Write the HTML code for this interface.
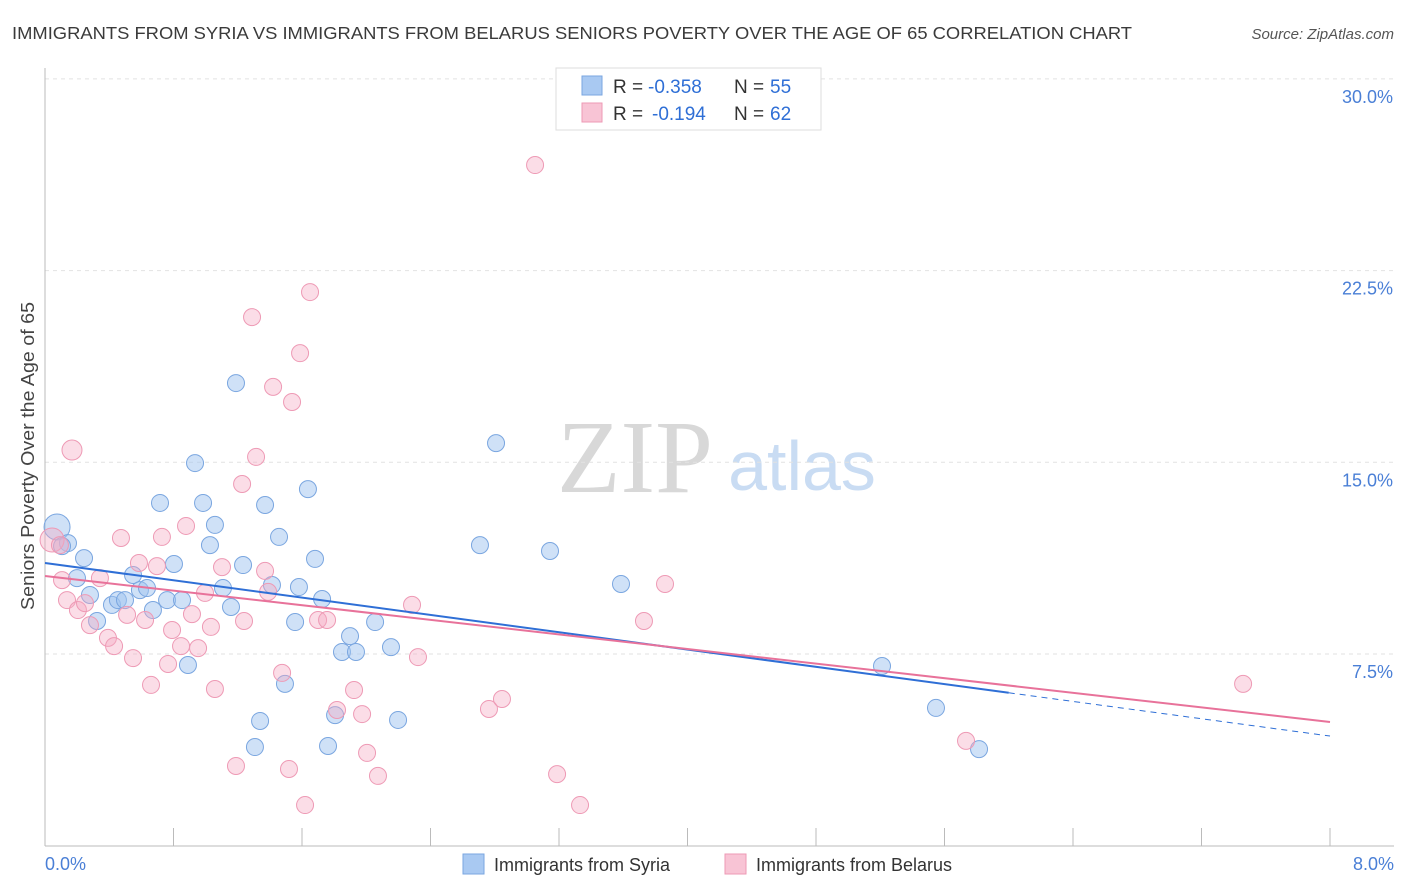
<!DOCTYPE html>
<html><head><meta charset="utf-8"><style>
body{margin:0;background:#fff;font-family:"Liberation Sans",sans-serif;}
svg{display:block}
</style></head><body>
<svg id="chart" width="1406" height="892">
<text x="12" y="39" font-size="17.5" fill="#3a3a3a" textLength="1120" lengthAdjust="spacingAndGlyphs">IMMIGRANTS FROM SYRIA VS IMMIGRANTS FROM BELARUS SENIORS POVERTY OVER THE AGE OF 65 CORRELATION CHART</text>
<text x="1394" y="39" font-size="15" font-style="italic" fill="#555" text-anchor="end">Source: ZipAtlas.com</text>
<text x="635" y="492" font-size="104" font-family="Liberation Serif" fill="#d8d8d8" text-anchor="middle">ZIP</text>
<text x="802" y="490" font-size="70" fill="#c9dcf3" text-anchor="middle">atlas</text>
<g id="grid"></g><g id="axes"></g><g id="pts"></g><g id="lines"></g>
<text transform="translate(34,456) rotate(-90)" font-size="18" fill="#444" text-anchor="middle" textLength="308" lengthAdjust="spacingAndGlyphs">Seniors Poverty Over the Age of 65</text>
<g>
<rect x="556" y="68" width="265" height="62" fill="#fff" stroke="#ddd"/>
<rect x="582" y="76" width="20" height="19" fill="#a9c9f2" stroke="#7aa6e0"/>
<rect x="582" y="103" width="20" height="19" fill="#f8c4d5" stroke="#ee9ab5"/>
<text x="613" y="93" font-size="19" fill="#333">R =</text>
<text x="648" y="93" font-size="19" fill="#2f6fd6">-0.358</text>
<text x="734" y="93" font-size="19" fill="#333">N =</text>
<text x="770" y="93" font-size="19" fill="#2f6fd6">55</text>
<text x="613" y="120" font-size="19" fill="#333">R =</text>
<text x="652" y="120" font-size="19" fill="#2f6fd6">-0.194</text>
<text x="734" y="120" font-size="19" fill="#333">N =</text>
<text x="770" y="120" font-size="19" fill="#2f6fd6">62</text>
</g>
<g>
<rect x="463" y="854" width="21" height="20" fill="#a9c9f2" stroke="#7aa6e0"/>
<text x="494" y="871" font-size="18" fill="#333">Immigrants from Syria</text>
<rect x="725" y="854" width="21" height="20" fill="#f8c4d5" stroke="#ee9ab5"/>
<text x="756" y="871" font-size="18" fill="#333">Immigrants from Belarus</text>
</g>
</svg>
<script>
const yTicks=[7.5,15,22.5,30];
const yTickLabels=["7.5%","15.0%","22.5%","30.0%"];
const xEndLabels=["0.0%","8.0%"];
const syriaX=[.075,.143,.106,.243,.199,.280,.324,.417,.454,.498,.548,.591,.635,.672,.716,.760,.803,.853,.890,.934,.984,1.027,1.058,1.108,1.158,1.189,1.233,1.339,1.307,1.370,1.413,1.457,1.494,1.557,1.581,1.637,1.681,1.725,1.762,1.806,1.849,1.899,1.936,2.055,2.154,2.198,2.708,2.808,3.144,3.586,5.211,5.547,5.815];
const syriaY=[12.47,11.84,11.72,11.25,10.47,9.81,8.79,9.42,9.61,9.61,10.59,10.00,10.08,9.22,13.41,9.61,11.02,9.61,7.07,14.97,13.41,11.76,12.55,10.08,9.34,18.10,10.98,4.88,3.86,13.33,10.20,12.08,6.33,8.75,10.12,13.95,11.22,9.65,3.90,5.11,7.58,8.20,7.58,8.75,7.77,4.92,11.76,15.75,11.53,10.24,7.03,5.39,3.78];
const belarusX=[.168,.044,.093,.106,.137,.205,.249,.280,.342,.392,.430,.473,.511,.548,.585,.623,.660,.697,.728,.766,.791,.847,.878,.915,.953,.996,1.033,1.058,1.102,1.189,1.227,1.239,1.289,1.314,1.370,1.389,1.420,1.476,1.519,1.538,1.588,1.619,1.650,1.700,1.756,1.818,1.924,1.974,2.005,2.073,2.285,2.322,2.764,2.845,3.051,3.188,3.331,3.729,3.860,5.734,7.459];
const belarusY=[15.48,11.96,11.76,10.39,9.61,9.22,9.49,8.63,10.47,8.13,7.81,12.04,9.03,7.34,11.06,8.83,6.29,10.94,12.08,7.11,8.44,7.81,12.51,9.06,7.73,9.89,8.56,6.13,10.90,3.12,14.15,8.79,20.68,15.21,10.75,9.93,17.95,6.76,3.00,17.36,19.27,1.59,21.66,8.83,8.83,5.31,6.09,5.15,3.63,2.73,9.42,7.38,5.35,5.74,26.63,2.80,1.59,8.79,10.24,4.10,6.33];
const syriaTrend=[11.06,4.29];
const belarusTrend=[10.55,4.84];
const syriaSolidEnd=6.0;

const NS="http://www.w3.org/2000/svg";
const X=v=>45+v/8*1285;
const Y=v=>845.7-v*25.56;
function mk(tag,attrs,parent){const e=document.createElementNS(NS,tag);for(const k in attrs)e.setAttribute(k,attrs[k]);document.getElementById(parent).appendChild(e);return e;}
yTicks.forEach((t,i)=>{
 const l=mk('line',{x1:45,x2:1394,y1:Y(t),y2:Y(t),stroke:'#e2e2e2','stroke-dasharray':'4,4'},'grid');
 
 
 const tx=mk('text',{x:1393,y:Y(t)+24,'font-size':18,fill:'#4a7fd6','text-anchor':'end'},'grid');
 tx.textContent=yTickLabels[i];
 
 
});
const ax=mk('line',{x1:45,x2:45,y1:68,y2:846,stroke:'#bbb'},'axes');


const bx=mk('line',{x1:45,x2:1394,y1:846,y2:846,stroke:'#bbb'},'axes');


for(let i=1;i<=10;i++){const tk=mk('line',{x1:X(i*0.8),x2:X(i*0.8),y1:828,y2:846,stroke:'#bbb'},'axes');
 
 }
[[0,'start',45],[1,'end',1394]].forEach(([i,a,x])=>{const t=mk('text',{x:x,y:870,'font-size':18,fill:'#4a7fd6','text-anchor':a},'axes');t.textContent=xEndLabels[i];
 
 });
function r(x,y){return (x<0.2&&y>12.2)?13:(x<0.1&&y>11.9?12:8.5);}
syriaX.forEach((x,i)=>{const c=mk('circle',{cx:X(x),cy:Y(syriaY[i]),r:r(x,syriaY[i]),fill:'rgba(160,196,240,0.5)',stroke:'#7aa6e0','stroke-width':1},'pts');
 
 });
belarusX.forEach((x,i)=>{const rr=(x>0.15&&x<0.2&&belarusY[i]>15)?10:r(x,belarusY[i]);const c=mk('circle',{cx:X(x),cy:Y(belarusY[i]),r:rr,fill:'rgba(244,170,195,0.4)',stroke:'#ee9ab5','stroke-width':1},'pts');
 
 });
const sy=x=>syriaTrend[0]+(syriaTrend[1]-syriaTrend[0])*x/8;
const l1=mk('line',{x1:X(0),y1:Y(sy(0)),x2:X(syriaSolidEnd),y2:Y(sy(syriaSolidEnd)),stroke:'#2f6fd6','stroke-width':2},'lines');


const l2=mk('line',{x1:X(syriaSolidEnd),y1:Y(sy(syriaSolidEnd)),x2:X(8),y2:Y(sy(8)),stroke:'#2f6fd6','stroke-width':1,'stroke-dasharray':'6,5'},'lines');


const l3=mk('line',{x1:X(0),y1:Y(belarusTrend[0]),x2:X(8),y2:Y(belarusTrend[1]),stroke:'#e8729a','stroke-width':2},'lines');


</script>
</body></html>
